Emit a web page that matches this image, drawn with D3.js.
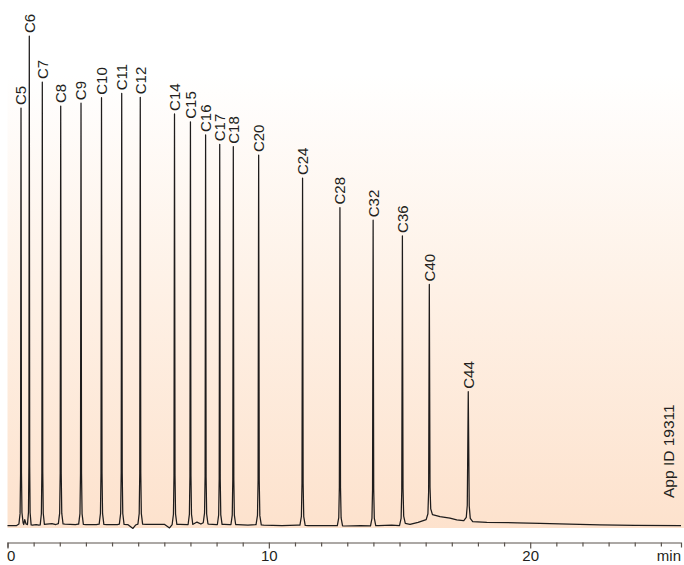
<!DOCTYPE html>
<html><head><meta charset="utf-8">
<script src="https://cdn.jsdelivr.net/npm/d3@7/dist/d3.min.js"></script>
<style>
html,body{margin:0;padding:0;background:#fff;}
svg{display:block;font-family:"Liberation Sans",Arial,Helvetica,sans-serif;}
</style></head>
<body>
<svg id="chart" width="684" height="565"></svg>
<script>
// ---- data ----
const peakNames = ["C5","C6","C7","C8","C9","C10","C11","C12","C14","C15","C16","C17","C18","C20","C24","C28","C32","C36","C40","C44"];
const peakTimes = [0.517,0.834,1.332,2.036,2.813,3.597,4.37,5.08,6.39,7.00,7.58,8.12,8.64,9.61,11.29,12.72,13.99,15.11,16.14,17.63];
const peakHeights = [85.3,100,90.6,85.7,86.3,87.4,88.3,87.5,84.1,82.5,79.8,77.9,77.4,75.7,71.0,65.0,62.4,59.2,49.3,27.4];
const peakHalfWidths = [0.08,0.07,0.08,0.09,0.09,0.09,0.09,0.09,0.09,0.09,0.09,0.09,0.09,0.1,0.1,0.1,0.1,0.11,0.12,0.17];
const baselineTimes = [0,0.35,0.58,0.62,0.66,0.71,0.75,0.95,1.1,1.2,1.5,1.7,1.85,1.95,2.2,2.6,2.7,3.0,3.4,3.5,3.8,4.2,4.3,4.6,4.8,4.9,5.0,5.3,6.0,6.2,6.3,6.6,6.9,7.1,7.25,7.4,7.5,7.7,8.0,8.3,8.5,8.8,9.2,9.5,9.8,10.5,11.1,11.5,12.0,12.6,12.9,13.5,13.9,14.2,14.7,15.0,15.21,15.4,15.71,16.05,16.23,16.55,16.93,17.19,17.44,17.76,18.34,19.5,20.38,21.5,22.67,24.0,25.77];
const baselineValues = [0.1,0.1,0.9,0.3,1.3,0.4,0.3,0.2,0.3,0.2,0.4,0.5,0.3,0.5,0.4,0.3,0.4,0.3,0.3,0.4,0.3,0.3,0.4,0.3,-0.5,0.2,0.4,0.35,0.35,-0.4,0.3,0.35,0.3,0.35,0.8,0.4,0.7,0.4,0.3,0.35,0.3,0.3,0.2,0.3,0.2,0.1,0.2,0.1,0.1,0.1,0.0,0.1,0.0,0.1,0.2,0.1,0.55,0.35,0.75,1.35,2.35,1.9,1.6,1.25,1.1,0.9,0.75,0.65,0.55,0.4,0.25,0.15,0.1];
const xTickValues = [0,1,2,3,4,5,6,7,8,9,10,11,12,13,14,15,16,17,18,19,20,21,22,23,24,25];
const xTickLabels = {0:"0",10:"10",20:"20"};
const xUnitLabel = "min";
const appIdText = "App ID 19311";

// ---- layout ----
const svg = d3.select("#chart");
const x = d3.scaleLinear().domain([0,25.77]).range([7.5,681]);
const y = d3.scaleLinear().domain([0,100]).range([526,36]);

// background gradient
const defs = svg.append("defs");
const grad = defs.append("linearGradient").attr("id","bg").attr("x1",0).attr("y1",0).attr("x2",0).attr("y2",1);
grad.append("stop").attr("offset","0%").attr("stop-color","#ffffff");
grad.append("stop").attr("offset","14%").attr("stop-color","#ffffff");
grad.append("stop").attr("offset","55%").attr("stop-color","#fef1e6");
grad.append("stop").attr("offset","100%").attr("stop-color","#fde2cd");
svg.append("rect").attr("x",x(0)).attr("y",0).attr("width",684-x(0)).attr("height",528).attr("fill","url(#bg)");

// build trace from baseline points + peak shapes
const baseAt = d3.scaleLinear().domain(baselineTimes).range(baselineValues).clamp(true);
let pts = [];
const windows = peakTimes.map((t,i)=>[t-peakHalfWidths[i], t+peakHalfWidths[i]]);
baselineTimes.forEach((t,i)=>{
  if(!windows.some(w=>t>=w[0]&&t<=w[1])) pts.push([t,baselineValues[i]]);
});
peakTimes.forEach((t,i)=>{
  const w = peakHalfWidths[i], h = peakHeights[i];
  const bl = baseAt(t-w), br = baseAt(t+w);
  pts.push([t-w, bl]);
  pts.push([t-w*0.45, bl + (h-bl)*0.025]);
  pts.push([t-w*0.22, bl + (h-bl)*0.12]);
  pts.push([t, h]);
  pts.push([t+w*0.22, br + (h-br)*0.12]);
  pts.push([t+w*0.45, br + (h-br)*0.025]);
  pts.push([t+w, br]);
});
pts.sort((a,b)=>a[0]-b[0]);

const line = d3.line().x(d=>x(d[0])).y(d=>y(d[1])).curve(d3.curveLinear);
svg.append("path").datum(pts).attr("d",line)
  .attr("fill","none").attr("stroke","#1e1c1c").attr("stroke-width",1.25).attr("stroke-linejoin","round");

// peak labels
svg.append("g").selectAll("text").data(peakNames).join("text")
  .attr("transform",(d,i)=>`translate(${x(peakTimes[i])},${y(peakHeights[i])-3}) rotate(-90)`)
  .attr("dy","0.36em")
  .attr("font-size",15).attr("fill","#231f20")
  .text(d=>d);

// x axis
const axisY = 542.5;
const axis = d3.axisBottom(x).tickValues(xTickValues).tickSize(4).tickSizeOuter(5)
  .tickFormat(d=>xTickLabels[d]||"");
const gAx = svg.append("g").attr("transform",`translate(0,${axisY})`).call(axis);
gAx.select(".domain").attr("stroke","#5a534d").attr("stroke-width",1.2);
gAx.selectAll(".tick line").attr("stroke","#5a534d").attr("stroke-width",1.2)
  .attr("y2",d=>xTickLabels[d]!==undefined?6:4);
gAx.selectAll(".tick text").attr("font-size",15).attr("fill","#231f20")
  .attr("font-family","\"Liberation Sans\",Arial,sans-serif")
  .attr("y",8).attr("dy","0.71em")
  .attr("text-anchor",d=>d===0?"start":"middle")
  .attr("x",d=>d===0?-1:0);
svg.append("text").attr("x",681).attr("y",axisY+8).attr("dy","0.71em")
  .attr("text-anchor","end").attr("font-size",15).attr("fill","#231f20").text(xUnitLabel);

// app id
svg.append("text").attr("transform",`translate(668,498) rotate(-90)`).attr("dy","0.36em")
  .attr("font-size",15.5).attr("fill","#231f20").text(appIdText);
</script>
</body></html>
